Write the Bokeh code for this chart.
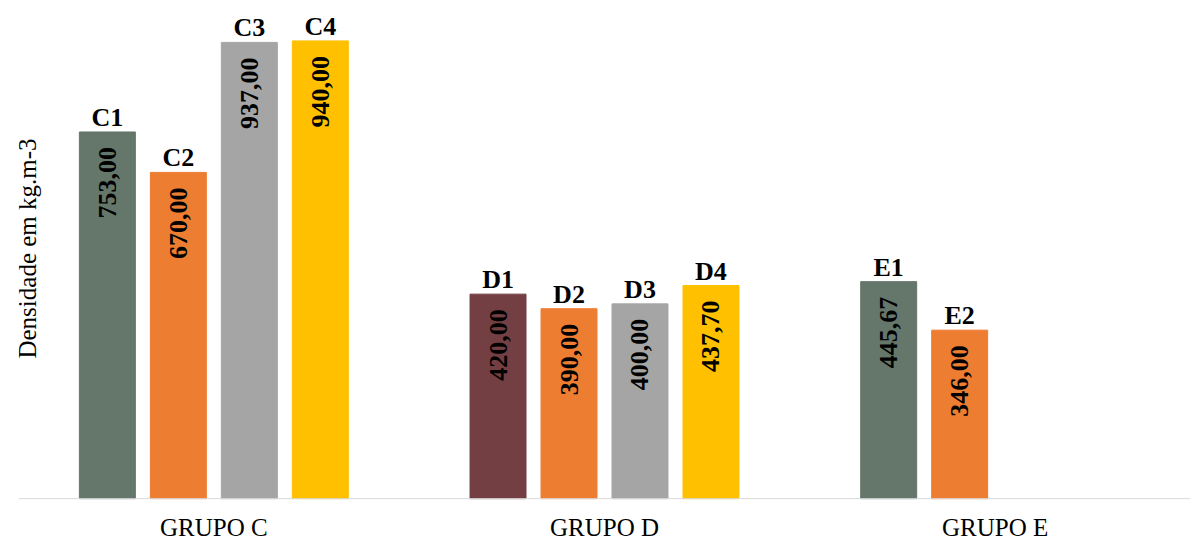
import math
from bokeh.plotting import figure
from bokeh.models import ColumnDataSource, FactorRange, Range1d, Label, Span
from bokeh.transform import dodge
from bokeh.core.properties import value
from bokeh.embed import file_html
from bokeh.resources import INLINE

groups = ["GRUPO C", "GRUPO D", "GRUPO E"]
names = ["C1", "C2", "C3", "C4", "D1", "D2", "D3", "D4", "E1", "E2"]
bar_group = ["GRUPO C"] * 4 + ["GRUPO D"] * 4 + ["GRUPO E"] * 2
slots = [0, 1, 2, 3, 0, 1, 2, 3, 0, 1]
values = [753.00, 670.00, 937.00, 940.00, 420.00, 390.00, 400.00, 437.70, 445.67, 346.00]
colors = ["#65766B", "#ED7D31", "#A5A5A5", "#FFC000",
          "#733F43", "#ED7D31", "#A5A5A5", "#FFC000",
          "#65766B", "#ED7D31"]
value_labels = [f"{v:.2f}".replace(".", ",") for v in values]
y_title = "Densidade em kg.m-3"

FONT = "Liberation Serif"
SLOT = 0.1817
BAR_W = 0.1433

p = figure(width=1190, height=541, x_range=FactorRange(*groups),
           y_range=Range1d(-88, 1023), output_backend="svg", toolbar_location=None,
           min_border_left=18, min_border_right=0, min_border_top=0, min_border_bottom=0)
p.outline_line_color = None
p.grid.visible = False
p.xaxis.visible = False
p.yaxis.visible = False

p.add_layout(Span(location=0, dimension="width", line_color="#D9D9D9", line_width=1))

for s in range(4):
    idx = [i for i in range(len(names)) if slots[i] == s]
    src = ColumnDataSource(dict(
        g=[bar_group[i] for i in idx],
        v=[values[i] for i in idx],
        c=[colors[i] for i in idx],
        n=[names[i] for i in idx],
        lab=[value_labels[i] for i in idx],
    ))
    xd = dodge("g", (s - 1.5) * SLOT, range=p.x_range)
    p.vbar(x=xd, top="v", width=BAR_W, fill_color="c", line_color="c", source=src)
    p.text(x=xd, y="v", text="n", text_font=value(FONT), text_font_style="bold",
           text_font_size="26px", text_align="center", text_baseline="bottom",
           y_offset=0, text_color="black", source=src)
    p.text(x=xd, y="v", text="lab", text_font=value(FONT), text_font_style="bold",
           text_font_size="26px", text_align="right", text_baseline="middle",
           angle=math.pi / 2, y_offset=15, text_color="black", source=src)

cat_src = ColumnDataSource(dict(g=groups, y=[0] * len(groups)))
p.text(x="g", y="y", text="g", source=cat_src, y_offset=15,
       text_align="center", text_baseline="top",
       text_font=value(FONT), text_font_size="25px", text_color="black")

p.add_layout(Label(x=9, y=293, x_units="screen", y_units="screen", text=y_title,
                   angle=math.pi / 2, text_align="center", text_baseline="middle",
                   text_font=FONT, text_font_size="25px", text_color="black"))

open("out.html", "w").write(file_html(p, INLINE))
